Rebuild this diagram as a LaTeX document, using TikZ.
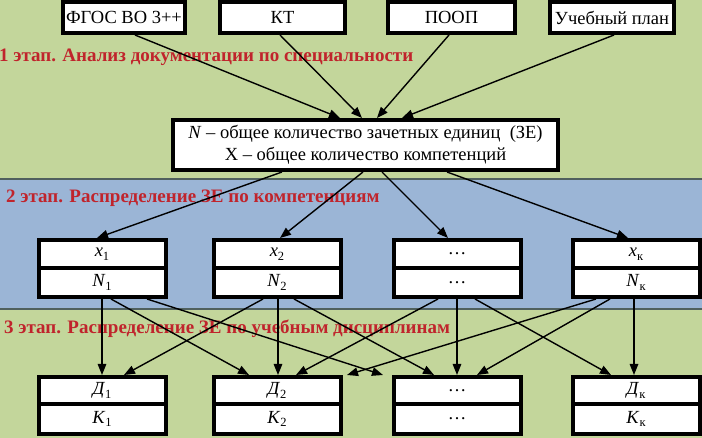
\documentclass[tikz,border=0pt]{standalone}
\usepackage{fontspec}
\setmainfont{Liberation Serif}
\usetikzlibrary{arrows.meta}
\definecolor{bggreen}{RGB}{195,214,155}
\definecolor{bgblue}{RGB}{155,181,214}
\definecolor{bandline}{RGB}{80,96,94}
\definecolor{stagered}{RGB}{192,36,44}
\newcommand\subs[1]{\raisebox{-0.45ex}{\fontsize{12.5}{12.5}\selectfont #1}}
\begin{document}
\begin{tikzpicture}[x=1pt,y=-1pt,
  box/.style={draw, line width=4pt, fill=white, inner sep=0pt, font=\fontsize{18.5}{21.5}\selectfont},
  topbox/.style={box, minimum height=31pt},
  cellup/.style={box, minimum width=127pt, minimum height=28pt},
  celllow/.style={box, minimum width=127pt, minimum height=29pt},
  cellupb/.style={box, minimum width=127pt, minimum height=27pt},
  celllowb/.style={box, minimum width=127pt, minimum height=30pt},
  conn/.style={line width=1.4pt, -{Triangle[length=11pt,width=8.5pt]}},
  stage/.style={anchor=west, inner sep=0pt, text=stagered, font=\fontsize{19}{22}\selectfont\bfseries}
]
\useasboundingbox (0,0) rectangle (702,438);
\fill[bggreen] (0,0) rectangle (702,438);
\fill[bgblue] (0,179) rectangle (702,309);
\draw[bandline, line width=1.3pt] (0,179) -- (702,179);
\draw[bandline, line width=1.3pt] (0,309) -- (702,309);

% stage labels
\node[stage] (s1) at (-1,57) {1 этап. Анализ документации по специальности};
\node[stage] (s2) at (6,198) {2 этап. Распределение ЗЕ по компетенциям};
\node[stage] (s3) at (4,329) {3 этап. Распределение ЗЕ по учебным дисциплинам};

% top row
\node[topbox, minimum width=122pt] (fgos) at (124,17.5) {ФГОС ВО 3++};
\node[topbox, minimum width=125pt] (kt) at (282.5,17.5) {КТ};
\node[topbox, minimum width=127pt] (poop) at (451.5,17.5) {ПООП};
\node[topbox, minimum width=124pt] (plan) at (612,17.5) {Учебный план};

% middle box
\node[box, minimum width=385pt, minimum height=50pt, align=center] (mid) at (365.5,145)
  {\textit{N} – общее количество зачетных единиц\ \ (ЗЕ)\\X – общее количество компетенций};

% row 2
\node[cellup] (a1) at (102,254) {\textit{x}\subs{1}};
\node[celllow] (b1) at (102,282.5) {\textit{N}\subs{1}};
\node[cellup] (a2) at (277,254) {\textit{x}\subs{2}};
\node[celllow] (b2) at (277,282.5) {\textit{N}\subs{2}};
\node[cellup] (a3) at (457,254) {\ldots};
\node[celllow] (b3) at (457,282.5) {\ldots};
\node[cellup] (a4) at (636,254) {\textit{x}\subs{к}};
\node[celllow] (b4) at (636,282.5) {\textit{N}\subs{к}};

% row 3
\node[cellupb] (d1) at (102,390.5) {\textit{Д}\subs{1}};
\node[celllowb] (k1) at (102,419) {\textit{К}\subs{1}};
\node[cellupb] (d2) at (277,390.5) {\textit{Д}\subs{2}};
\node[celllowb] (k2) at (277,419) {\textit{К}\subs{2}};
\node[cellupb] (d3) at (457,390.5) {\ldots};
\node[celllowb] (k3) at (457,419) {\ldots};
\node[cellupb] (d4) at (636,390.5) {\textit{Д}\subs{к}};
\node[celllowb] (k4) at (636,419) {\textit{К}\subs{к}};

% top -> middle
\draw[conn] ([xshift=11pt]fgos.south) -- ([xshift=-25.5pt]mid.north);
\draw[conn] ([xshift=-2.5pt]kt.south) -- ([xshift=-3.5pt]mid.north);
\draw[conn] ([xshift=-2.5pt]poop.south) -- ([xshift=11.5pt]mid.north);
\draw[conn] ([xshift=2pt]plan.south) -- ([xshift=36.5pt]mid.north);

% middle -> row 2
\draw[conn] ([xshift=-83.5pt]mid.south) -- ([xshift=-5pt]a1.north);
\draw[conn] ([xshift=-2.5pt]mid.south) -- ([xshift=3pt]a2.north);
\draw[conn] ([xshift=16.5pt]mid.south) -- ([xshift=-9pt]a3.north);
\draw[conn] ([xshift=81.5pt]mid.south) -- ([xshift=-8pt]a4.north);

% row 2 -> row 3
\draw[conn] (b1.south) -- (d1.north);
\draw[conn] ([xshift=9pt]b1.south) -- ([xshift=-28pt]d2.north);
\draw[conn] ([xshift=45pt]b1.south) -- ([xshift=-74pt]d3.north);
\draw[conn] ([xshift=-14pt]b2.south) -- ([xshift=22pt]d1.north);
\draw[conn] ([xshift=1pt]b2.south) -- ([xshift=1pt]d2.north);
\draw[conn] ([xshift=17pt]b2.south) -- ([xshift=-23pt]d3.north);
\draw[conn] ([xshift=-19pt]b3.south) -- ([xshift=19pt]d2.north);
\draw[conn] (b3.south) -- (d3.north);
\draw[conn] ([xshift=18pt]b3.south) -- ([xshift=-25pt]d4.north);
\draw[conn] ([xshift=-40pt]b4.south) -- ([xshift=70pt]d2.north);
\draw[conn] ([xshift=-26pt]b4.south) -- ([xshift=20pt]d3.north);
\draw[conn] ([xshift=-2pt]b4.south) -- ([xshift=-2pt]d4.north);
\end{tikzpicture}
\end{document}
